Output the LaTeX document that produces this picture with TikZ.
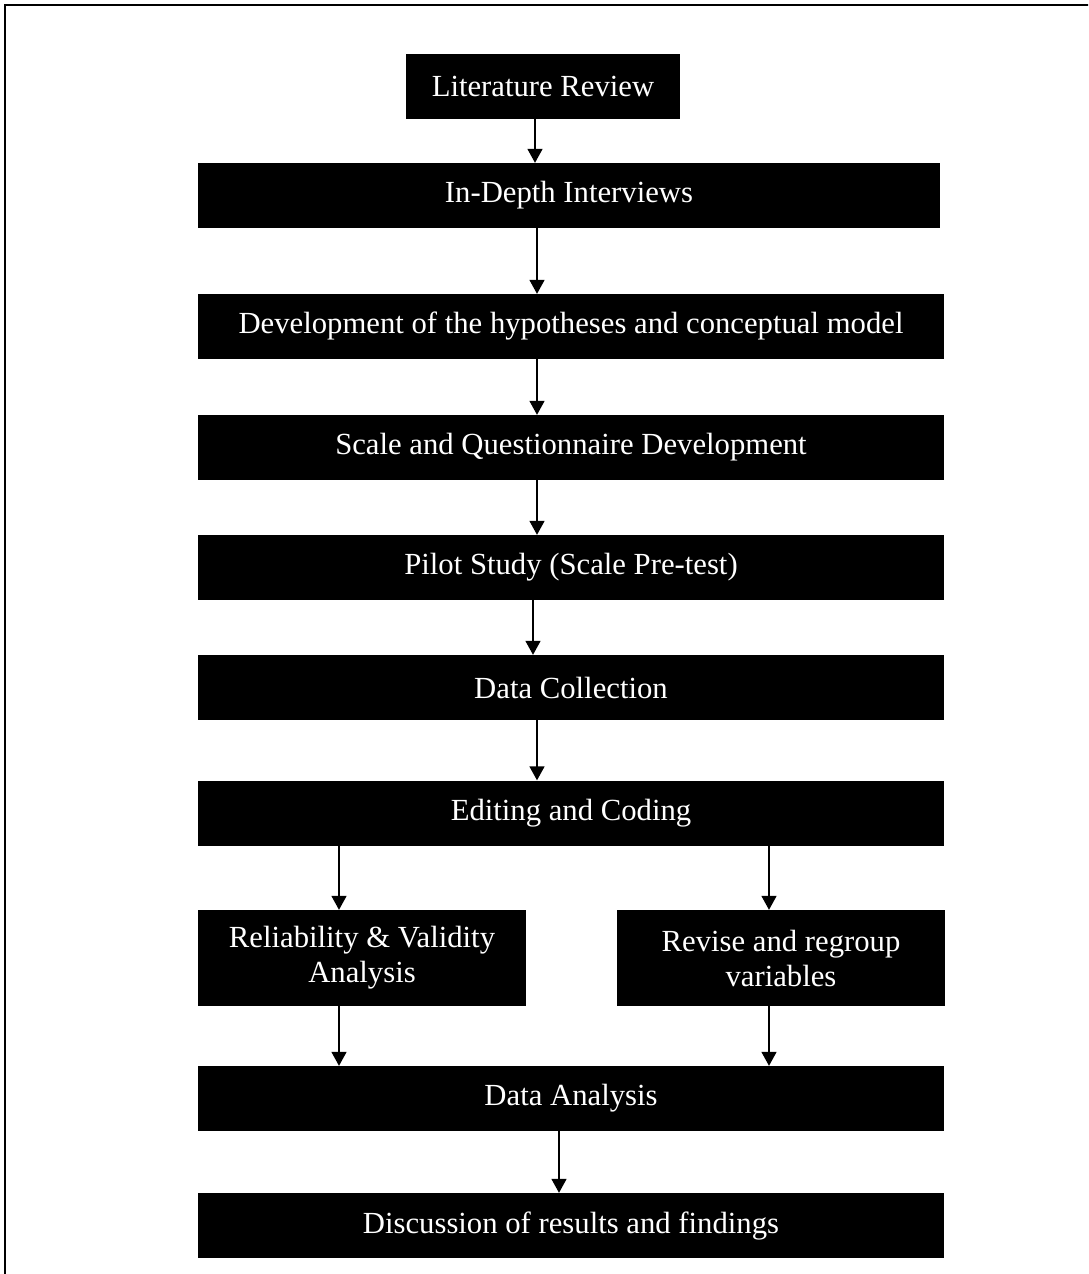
\documentclass[tikz,border=0pt]{standalone}
\usepackage{fontspec}
\setmainfont{Liberation Serif}
\usetikzlibrary{arrows.meta}
\begin{document}
\begin{tikzpicture}[x=1pt,y=-1pt,
  stepbox/.style={fill=black,text=white,inner sep=0pt,align=center,
    font=\fontsize{30.7}{35}\selectfont,minimum height=65pt},
  wide/.style={stepbox,minimum width=746pt},
  half/.style={stepbox,minimum width=328pt,minimum height=96pt},
  flow/.style={line width=1.6pt,-{Triangle[width=15pt,length=14pt]}}]
\useasboundingbox (0,0) rectangle (1088,1274);
% frame, running off the right and bottom of the page
\begin{scope}
  \clip (0,0) rectangle (1088,1274);
  \draw[line width=2.5pt] (5,1290) -- (5,5) -- (1100,5);
\end{scope}

% process steps
\node[stepbox,minimum width=274pt] (lit) at (543,86.5) {Literature Review};
\node[stepbox,minimum width=742pt] (idi) at (569,195.5) {In-Depth Interviews};
\node[wide] (dev) at (571,326.5) {Development of the hypotheses and conceptual model};
\node[wide] (scl) at (571,447.5) {Scale and Questionnaire Development};
\node[wide] (pil) at (571,567.5) {Pilot Study (Scale Pre-test)};
\node[wide] (dc)  at (571,687.5) {Data Collection};
\node[wide] (edc) at (571,813) {Editing and Coding};
\node[half] (rel) at (362,958) {Reliability \& Validity\\Analysis};
\node[half] (rev) at (781,958) {Revise and regroup\\variables};
\node[wide] (da)  at (571,1098.5) {Data Analysis};
\node[wide] (dis) at (571,1225.5) {Discussion of results and findings};

% connectors
\draw[flow] (535,0 |- lit.south) -- (535,0 |- idi.north);
\draw[flow] (537,0 |- idi.south) -- (537,0 |- dev.north);
\draw[flow] (537,0 |- dev.south) -- (537,0 |- scl.north);
\draw[flow] (537,0 |- scl.south) -- (537,0 |- pil.north);
\draw[flow] (533,0 |- pil.south) -- (533,0 |- dc.north);
\draw[flow] (537,0 |- dc.south)  -- (537,0 |- edc.north);
\draw[flow] (339,0 |- edc.south) -- (339,0 |- rel.north);
\draw[flow] (769,0 |- edc.south) -- (769,0 |- rev.north);
\draw[flow] (339,0 |- rel.south) -- (339,0 |- da.north);
\draw[flow] (769,0 |- rev.south) -- (769,0 |- da.north);
\draw[flow] (559,0 |- da.south)  -- (559,0 |- dis.north);
\end{tikzpicture}
\end{document}
